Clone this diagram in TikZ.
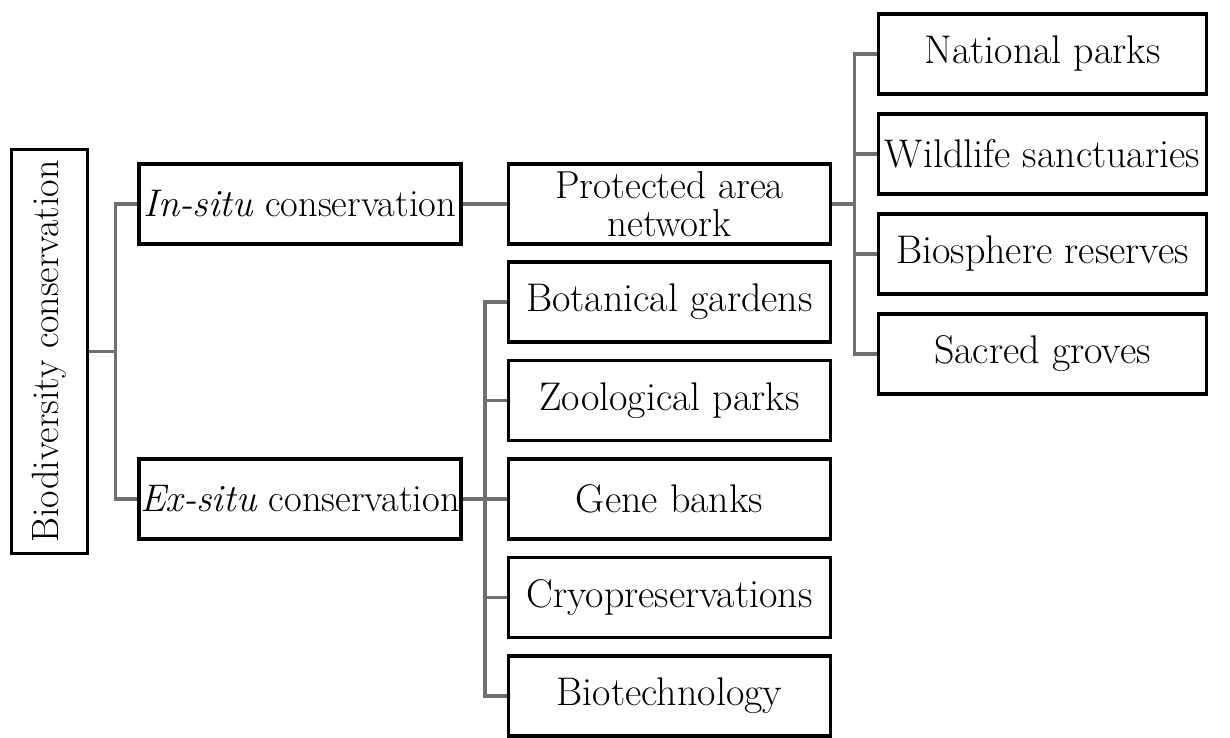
\documentclass[tikz,border=0pt]{standalone}
\usepackage{xcolor}
\usepackage{graphicx}
\usepackage{tikz}
\usetikzlibrary{trees}
\definecolor{branchgray}{RGB}{112,112,112}
\tikzset{
  cbox/.style={rectangle,draw=black,line width=3.8pt,fill=white,minimum width=322pt,
    minimum height=80pt,inner sep=1pt,align=center,font=\fontsize{40}{43}\selectfont},
  rbox/.style={cbox,minimum width=328pt},
  sbox/.style={cbox,inner sep=0pt,font=\fontsize{38.5}{42}\selectfont},
  rootbox/.style={cbox,minimum width=76pt,minimum height=404pt,inner sep=0pt,
    font=\fontsize{38}{42}\selectfont},
  branchline/.style={draw=branchgray,line width=3.8pt},
  forkright/.style={edge from parent path={(\tikzparentnode.east) -- ++(#1,0)
    |- (\tikzchildnode.west)}}
}

\begin{document}
\begin{tikzpicture}[x=1pt,y=-1pt,grow'=right,edge from parent/.style={branchline},
  level 1/.style={level distance=250.5pt,sibling distance=295pt,forkright=26pt},
  level 2/.style={level distance=369.5pt,sibling distance=98.5pt,forkright=22pt},
  level 3/.style={level distance=373pt,sibling distance=100pt,forkright=22pt}]
\useasboundingbox (0,0) rectangle (1230,738);
\node[rootbox] (bio) at (49.5,351.5) {\rotatebox{90}{Biodiversity conservation}}
 child {node[sbox] (insitu) {\textit{In-situ} conservation}
   child {node[cbox,inner sep=0pt,font=\fontsize{39}{38}\selectfont] (pan) {Protected area\\network}
     child {node[rbox] (natpark) {National parks}}
     child {node[rbox] (wildlife) {Wildlife sanctuaries}}
     child {node[rbox] (biosph) {Biosphere reserves}}
     child {node[rbox] (sacred) {Sacred groves}}}}
 child {node[sbox] (exsitu) {\textit{Ex-situ} conservation}
   child {node[cbox] (botgard) {Botanical gardens}}
   child {node[cbox] (zoopark) {Zoological parks}}
   child {node[cbox] (genebank) {Gene banks}}
   child {node[cbox] (cryo) {Cryopreservations}}
   child {node[cbox] (biotech) {Biotechnology}}};
\end{tikzpicture}
\end{document}
